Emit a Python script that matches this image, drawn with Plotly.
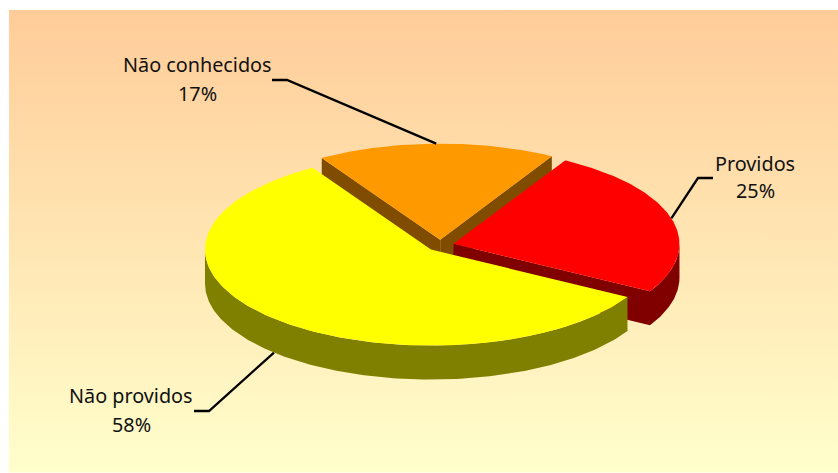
"""
plot.py
Exploded 3D-look pie chart, drawn as filled polygons on hidden pixel axes.
"""

import numpy as np
import plotly.graph_objects as go

categories = ["Providos", "Não providos", "Não conhecidos"]
shares = [25, 58, 17]
top_colors = ["#FF0000", "#FFFF00", "#FF9900"]
wall_colors = ["#800000", "#808000", "#804D00"]

WIDTH, HEIGHT = 838, 473
FIRST_ANGLE = 29.6  # degrees clockwise from 12 o'clock
CX, CY = 440.4, 245.4
RX, RY = 226.0, 96.0
EXPLODE = 0.06
DEPTH = 34.0
FONT = "Noto Sans"
LABEL_SIZE = 19.8

# elbow of each leader and centre of its label, same order as categories
leader_elbows = [((698, 178), (713, 178)), ((209, 411), (194, 411)), ((287, 80), (272, 80))]
label_centres = [(755, 163.5, 190.5), (131, 395.5, 424.5), (197, 64.5, 93.5)]


def rim(center, a0, a1, n=160):
    t = np.radians(np.linspace(a0, a1, n))
    return center[0] + RX * np.sin(t), center[1] - RY * np.cos(t)


def poly(fig, x, y, color):
    fig.add_trace(
        go.Scatter(
            x=x, y=y, mode="lines", fill="toself", fillcolor=color,
            line=dict(width=0, color=color), hoverinfo="skip", showlegend=False,
        )
    )


def wall_along_rim(fig, center, a0, a1, color):
    x, y = rim(center, a0, a1)
    poly(fig, np.r_[x, x[::-1]], np.r_[y, y[::-1] + DEPTH], color)


def wall_along_edge(fig, center, angle, color):
    x, y = rim(center, angle, angle, n=1)
    ex = [center[0], x[0], x[0], center[0]]
    ey = [center[1], y[0], y[0] + DEPTH, center[1] + DEPTH]
    poly(fig, ex, ey, color)


# slice angles and exploded centres
sweeps = np.array(shares) / sum(shares) * 360
starts = FIRST_ANGLE + np.r_[0, np.cumsum(sweeps)[:-1]]
mids = starts + sweeps / 2
centers = [
    (CX + EXPLODE * RX * np.sin(np.radians(m)), CY - EXPLODE * RY * np.cos(np.radians(m)))
    for m in mids
]

fig = go.Figure()

# background panel with the vertical gradient
fig.add_trace(
    go.Scatter(
        x=[9, WIDTH, WIDTH, 9, 9], y=[10, 10, 472.5, 472.5, 10],
        mode="lines", fill="toself", line=dict(width=0),
        fillgradient=dict(
            type="vertical",
            colorscale=[[0, "#FFFFCC"], [1, "#FFCC99"]],
        ),
        hoverinfo="skip", showlegend=False,
    )
)

# back to front: orange, red, yellow
for i in [2, 0, 1]:
    c, a0, sw = centers[i], starts[i], sweeps[i]
    a1 = a0 + sw
    # straight cut faces are only seen when they turn towards the viewer
    for ang, sign in ((a0, -1), (a1, 1)):
        normal_down = np.sin(np.radians(ang)) * sign
        if normal_down > 0:
            wall_along_edge(fig, c, ang, wall_colors[i])
    # outer wall on the front half of the ellipse (90..270 degrees)
    lo = max(a0 % 360, 90) if (a0 % 360) < 270 else None
    hi = min((a0 % 360) + sw, 270)
    if lo is not None and hi > lo:
        wall_along_rim(fig, c, lo, hi, wall_colors[i])
    x, y = rim(c, a0, a1)
    poly(fig, np.r_[c[0], x, c[0]], np.r_[c[1], y, c[1]], top_colors[i])

# leaders and labels
for i, name in enumerate(categories):
    t = np.radians(mids[i])
    ax = centers[i][0] + RX * np.sin(t)
    ay = centers[i][1] - RY * np.cos(t)
    if np.cos(t) < 0:
        ay += DEPTH
    (ex, ey), (fx, fy) = leader_elbows[i]
    fig.add_trace(
        go.Scatter(
            x=[ax, ex, fx], y=[ay, ey, fy], mode="lines",
            line=dict(width=2.3, color="#000000"), hoverinfo="skip", showlegend=False,
        )
    )
    lx, ly1, ly2 = label_centres[i]
    for txt, ly in ((name, ly1), (f"{shares[i]}%", ly2)):
        fig.add_annotation(
            x=lx, y=ly, text=txt, showarrow=False, xanchor="center", yanchor="middle",
            font=dict(family=FONT, size=LABEL_SIZE, color="#111111"),
        )

fig.update_layout(
    width=WIDTH, height=HEIGHT,
    margin=dict(l=0, r=0, t=0, b=0),
    paper_bgcolor="#FFFFFF", plot_bgcolor="#FFFFFF",
    xaxis=dict(range=[0, WIDTH], visible=False, fixedrange=True),
    yaxis=dict(range=[HEIGHT, 0], visible=False, fixedrange=True),
)

fig.write_html(
    "out.html",
    config=dict(displayModeBar=False),
    post_script="document.body.style.margin='0';",
)
